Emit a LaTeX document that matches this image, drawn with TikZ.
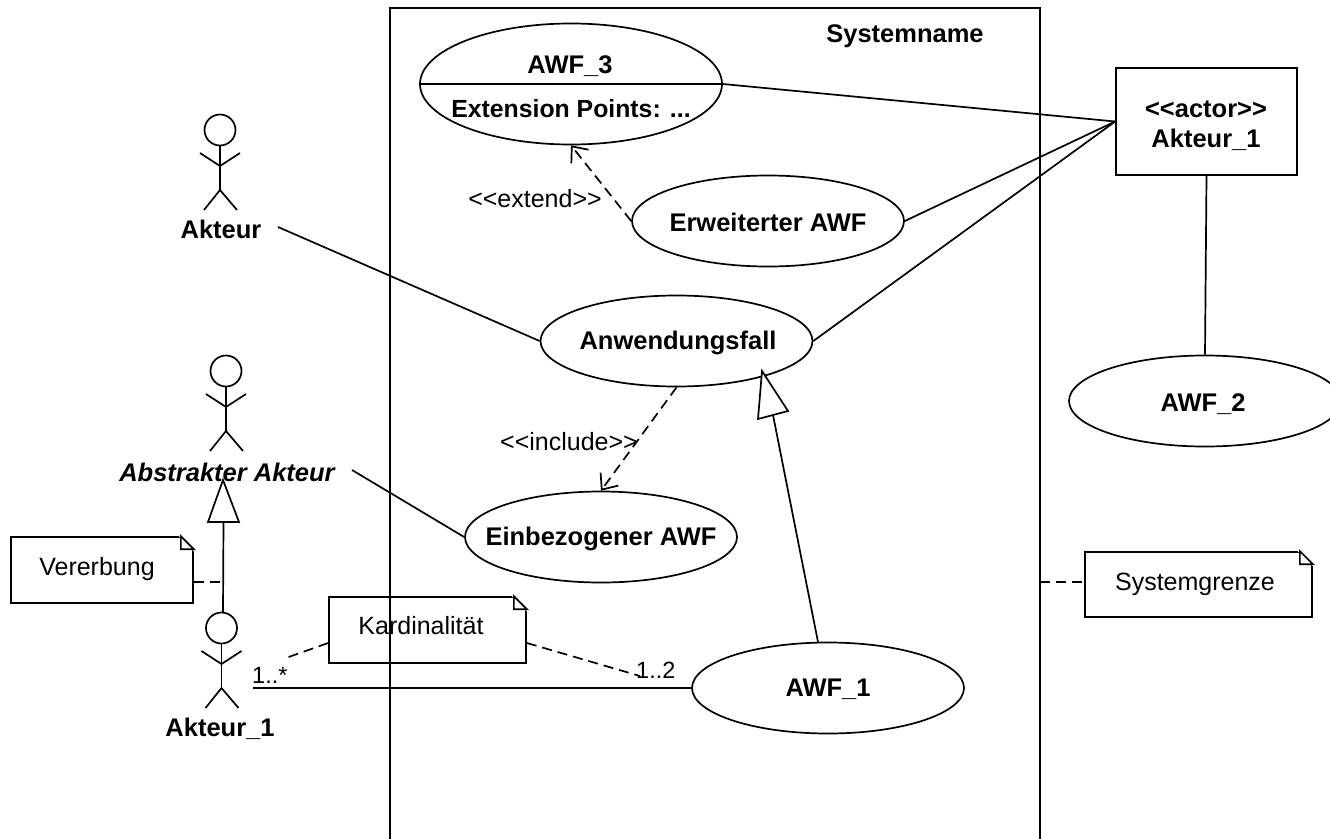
\documentclass[tikz,border=0pt]{standalone}
\usepackage{fontspec}
\setmainfont{Liberation Sans}
\usetikzlibrary{arrows.meta,shapes.geometric,calc}
\newcommand{\actorfig}[2]{%
  \draw[ln] (#1,#2) circle[radius=15.5];
  \draw[ln] (#1,#2+15.5) -- (#1,#2+60);
  \draw[ln] (#1-20,#2+23) -- (#1,#2+36) -- (#1+20,#2+23);
  \draw[ln] (#1-16,#2+80) -- (#1,#2+60) -- (#1+17,#2+80);
}
\newcommand{\notefold}[1]{%
  \path[fill=white,draw=white,line width=3pt] ([xshift=-13pt]#1.north east) -- ([xshift=3pt,yshift=3pt]#1.north east) -- ([yshift=-13pt]#1.north east) -- cycle;
  \draw[ln,line join=miter] ([xshift=-13pt]#1.north east) -- ([xshift=-13pt,yshift=-13pt]#1.north east) -- ([yshift=-13pt]#1.north east) -- cycle;
}
\tikzset{
  x=1pt,y=-1pt,
  ln/.style={line width=1.7pt,black},
  uc/.style={ellipse,draw,line width=1.7pt,minimum width=272pt,minimum height=91pt,inner sep=0pt},
  lab/.style={inner sep=0pt,font=\fontsize{25.5}{30}\selectfont\bfseries},
  plain/.style={inner sep=0pt,font=\fontsize{25}{30}\selectfont},
  notebox/.style={rectangle,draw,line width=1.7pt,inner sep=0pt},
  dep/.style={ln,dash pattern=on 10pt off 6pt,-{Straight Barb[length=13pt,width=22pt,line width=1.7pt]}},
  dsh/.style={ln,dash pattern=on 10pt off 6pt},
  gen/.style={ln,fill=white,line join=miter},
}
\begin{document}
\begin{tikzpicture}
\useasboundingbox (0,0) rectangle (1330,838);
\begin{scope}
\clip (0,0) rectangle (1330,838);
% notes
\node[notebox,minimum width=182pt,minimum height=66pt] (nv) at (102,570) {};
\node[plain] (tv) at (97,569) {Vererbung};
\notefold{nv}
\node[notebox,minimum width=197pt,minimum height=66pt] (nk) at (427.5,630) {};
\node[plain] (tk) at (421,626) {Kardinalität};
\notefold{nk}
\node[notebox,minimum width=227pt,minimum height=65pt] (ns) at (1198.5,584.5) {};
\node[plain] (ts) at (1195,584) {Systemgrenze};
\notefold{ns}
% system boundary
\coordinate (sysA) at (390,850);
\coordinate (sysB) at (390,8);
\coordinate (sysC) at (1040,8);
\coordinate (sysD) at (1040,850);
\draw[ln] (sysA) -- (sysB) -- (sysC) -- (sysD);
\node[lab] (sn) at (905,36) {Systemname};
% use cases
\node[uc,minimum width=302pt,minimum height=121pt] (awf3) at (571,84) {};
\draw[ln] (awf3.west) -- (awf3.east);
\node[lab] (t3a) at (570,66) {AWF\_3};
\node[lab,font=\fontsize{24.8}{30}\selectfont\bfseries] (t3b) at (571,109) {Extension Points: ...};
\node[uc] (erw) at (768,221) {};
\node[lab] (t4) at (768,222) {Erweiterter AWF};
\node[uc] (anw) at (676.5,341) {};
\node[lab] (t5) at (678,343) {Anwendungsfall};
\node[uc] (ein) at (601,537) {};
\node[lab] (t6) at (601,539) {Einbezogener AWF};
\node[uc] (awf1) at (828,688) {};
\node[lab] (t7) at (828,689) {AWF\_1};
\node[uc] (awf2) at (1205,401) {};
\node[lab] (t8) at (1203,404) {AWF\_2};
% actor class box
\node[rectangle,draw,line width=1.7pt,minimum width=181pt,minimum height=107pt,inner sep=0pt] (box) at (1206.5,121.5) {};
\node[lab,align=center] (t9) at (1206,125.5) {<{}<actor>{}>\\Akteur\_1};
% actors
\actorfig{220}{130}
\actorfig{226}{371}
\actorfig{221.5}{628}
\node[lab] (a0) at (221,229) {Akteur};
\node[lab,font=\fontsize{25.5}{30}\selectfont\bfseries\itshape] (a1) at (227,472) {Abstrakter Akteur};
\node[lab] (a2) at (220,729) {Akteur\_1};
% free ends
\coordinate (a0e) at (278,227);
\coordinate (a1e) at (352,470);
\coordinate (a2e) at (253,688);
\coordinate (vline) at (223,582);
\coordinate (sysline) at (1040,582);
\coordinate (k1) at (283,659);
\coordinate (k2) at (640,676);
\coordinate (kk) at (0,643);
% connectors
\draw[ln] (awf3.east) -- (box.west);
\draw[ln] (erw.east) -- (box.west);
\draw[ln] (anw.east) -- (box.west);
\draw[ln] (box.south) -- (awf2.north);
\draw[ln] (a0e) -- (anw.west);
\draw[ln] (a1e) -- (ein.west);
\draw[ln] (a2e) -- (awf1.west);
\draw[dep] (erw.west) -- (awf3.south);
\draw[dep] (anw.south) -- (ein.north);
\draw[dsh] (nv.east |- vline) -- (vline);
\draw[dsh] (sysline) -- (ns.west |- sysline);
\draw[dsh] (nk.west |- kk) -- (k1);
\draw[dsh] (nk.east |- kk) -- (k2);
% generalisations
\coordinate (g1tip) at (762,371);
\coordinate (g1a) at (758,419);
\coordinate (g1b) at (788,411);
\coordinate (g1s) at (818,642);
\coordinate (g2tip) at (223,480);
\coordinate (g2a) at (208,522);
\coordinate (g2b) at (239,522);
\coordinate (g2s) at (223,612);
\draw[ln] (g1s) -- ($(g1a)!0.5!(g1b)$);
\draw[ln] (g2s) -- ($(g2a)!0.5!(g2b)$);
\draw[gen] (g1tip) -- (g1a) -- (g1b) -- cycle;
\draw[gen] (g2tip) -- (g2a) -- (g2b) -- cycle;
% multiplicities
\node[plain,font=\fontsize{23.5}{30}\selectfont,anchor=base west] (m1) at (252,683) {1..*};
\node[plain,font=\fontsize{23.5}{30}\selectfont,anchor=base west] (m2) at (636,678) {1..2};
\node[plain] (ex) at (535,199) {<{}<extend>{}>};
\node[plain] (in) at (569,442) {<{}<include>{}>};
\end{scope}
\end{tikzpicture}
\end{document}
